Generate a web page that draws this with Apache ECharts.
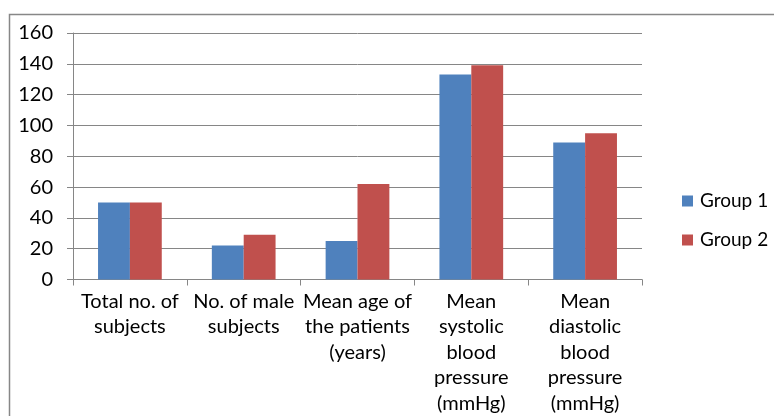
<!DOCTYPE html>
<html>
<head>
<meta charset="utf-8">
<script src="https://cdn.jsdelivr.net/npm/echarts@6/dist/echarts.min.js"></script>
<style>
html,body{margin:0;padding:0;background:#fff;}
#c{width:774px;height:416px;}
</style>
</head>
<body>
<div id="c"></div>
<script>
var categories = [
  "Total no. of\nsubjects",
  "No. of male\nsubjects",
  "Mean age of\nthe patients\n(years)",
  "Mean\nsystolic\nblood\npressure\n(mmHg)",
  "Mean\ndiastolic\nblood\npressure\n(mmHg)"
];
var group1 = [50, 22, 25, 133, 89];
var group2 = [50, 29, 62, 139, 95];
var seriesNames = ["Group 1", "Group 2"];
var yTicks = { min: 0, max: 160, interval: 20 };

var chart = echarts.init(document.getElementById('c'));
var FONT = 'Lato';
chart.setOption({
  animation: false,
  backgroundColor: '#fff',
  graphic: [{
    type: 'rect', left: 7, top: 12, silent: true,
    shape: { width: 800, height: 450 },
    style: { fill: 'none', stroke: '#878787', lineWidth: 1.5 }
  }],
  grid: { left: 73, right: 132, top: 33, bottom: 134, containLabel: false },
  legend: {
    orient: 'vertical', left: 677, top: 186,
    itemWidth: 11, itemHeight: 11, itemGap: 19,
    icon: 'rect',
    textStyle: { fontFamily: FONT, fontSize: 19, color: '#000', lineHeight: 20, padding: [0,0,0,2] },
    data: seriesNames
  },
  xAxis: {
    type: 'category', data: categories,
    axisLine: { lineStyle: { color: '#868686', width: 1 } },
    axisTick: { show: true, length: 6, alignWithLabel: false, lineStyle: { color: '#868686' } },
    axisLabel: { interval: 0, margin: 9, fontFamily: FONT, fontSize: 20, lineHeight: 25.5, color: '#000' }
  },
  yAxis: {
    type: 'value', min: yTicks.min, max: yTicks.max, interval: yTicks.interval,
    axisLine: { show: true, lineStyle: { color: '#868686', width: 1 } },
    axisTick: { show: true, length: 6, lineStyle: { color: '#868686' } },
    axisLabel: { margin: 20, fontFamily: FONT, fontSize: 20, color: '#000' },
    splitLine: { lineStyle: { color: '#868686', width: 1 } }
  },
  series: [
    { name: seriesNames[0], type: 'bar', data: group1, barGap: '0%', barCategoryGap: '44%',
      itemStyle: { color: '#4F81BD' } },
    { name: seriesNames[1], type: 'bar', data: group2, barGap: '0%', barCategoryGap: '44%',
      itemStyle: { color: '#C0504D' } }
  ]
});
</script>
</body>
</html>
